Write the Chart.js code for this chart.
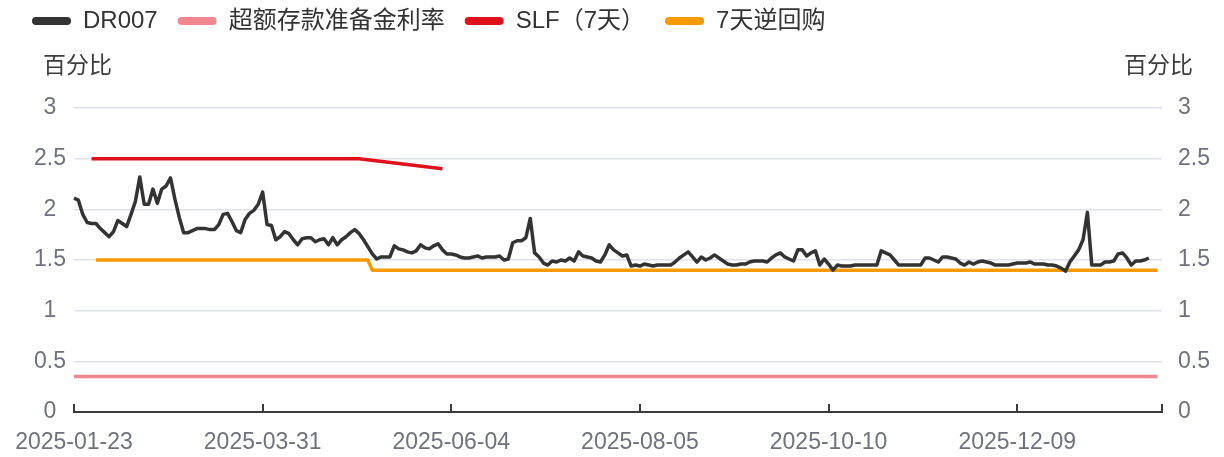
<!DOCTYPE html>
<html lang="zh-CN">
<head>
<meta charset="UTF-8">
<title>DR007 与政策利率</title>
<script src="https://cdn.jsdelivr.net/npm/chart.js"></script>
<style>
  html, body { margin: 0; padding: 0; background: #fff; }
  #chart { display: block; }
</style>
</head>
<body>
<canvas id="chart" width="1224" height="457"></canvas>
<script>
// trading days of the interbank market, 2025-01-23 .. 2026-01-23
const startDate = '2025-01-23';
const endDate = '2026-01-23';
const holidays = ['2025-01-28', '2025-01-29', '2025-01-30', '2025-01-31', '2025-02-03', '2025-02-04',
  '2025-04-04', '2025-05-01', '2025-05-02', '2025-05-05', '2025-06-02',
  '2025-10-01', '2025-10-02', '2025-10-03', '2025-10-06', '2025-10-07', '2025-10-08',
  '2026-01-01', '2026-01-02'];
const workWeekends = ['2025-01-26', '2025-02-08', '2025-04-27', '2025-09-28', '2025-10-11', '2026-01-04'];

// axis labels shown under the chart, one every 43 trading days
const tickLabels = ['2025-01-23', '2025-03-31', '2025-06-04', '2025-08-05', '2025-10-10', '2025-12-09'];
const tickEvery = 43;

// DR007 daily, %
const dr007 = [
  2.11, 2.09, 1.95, 1.87, 1.86, 1.86, 1.81, 1.77, 1.73, 1.78,
  1.89, 1.86, 1.83, 1.95, 2.08, 2.32, 2.05, 2.05, 2.20, 2.06,
  2.20, 2.23, 2.31, 2.10, 1.92, 1.77, 1.77, 1.79, 1.81, 1.81,
  1.81, 1.80, 1.80, 1.85, 1.95, 1.96, 1.88, 1.79, 1.77, 1.90,
  1.96, 1.99, 2.05, 2.17, 1.85, 1.84, 1.70, 1.73, 1.78, 1.76,
  1.70, 1.65, 1.71, 1.72, 1.72, 1.68, 1.70, 1.71, 1.65, 1.72,
  1.65, 1.70, 1.73, 1.77, 1.80, 1.76, 1.70, 1.63, 1.56, 1.51,
  1.53, 1.53, 1.53, 1.64, 1.61, 1.60, 1.58, 1.57, 1.59, 1.65,
  1.62, 1.61, 1.64, 1.66, 1.60, 1.56, 1.56, 1.55, 1.53, 1.52,
  1.52, 1.53, 1.54, 1.52, 1.53, 1.53, 1.53, 1.54, 1.50, 1.51,
  1.67, 1.69, 1.69, 1.72, 1.91, 1.57, 1.53, 1.47, 1.45, 1.49,
  1.48, 1.50, 1.49, 1.52, 1.49, 1.58, 1.54, 1.53, 1.52, 1.49,
  1.48, 1.55, 1.65, 1.60, 1.57, 1.54, 1.55, 1.44, 1.45, 1.44,
  1.46, 1.45, 1.44, 1.45, 1.45, 1.45, 1.45, 1.48, 1.52, 1.55,
  1.58, 1.53, 1.48, 1.53, 1.50, 1.52, 1.55, 1.52, 1.49, 1.46,
  1.45, 1.45, 1.46, 1.46, 1.48, 1.49, 1.49, 1.49, 1.48, 1.52,
  1.55, 1.57, 1.53, 1.51, 1.49, 1.60, 1.60, 1.54, 1.57, 1.59,
  1.45, 1.51, 1.46, 1.40, 1.45, 1.44, 1.44, 1.44, 1.45, 1.45,
  1.45, 1.45, 1.45, 1.45, 1.59, 1.57, 1.55, 1.50, 1.45, 1.45,
  1.45, 1.45, 1.45, 1.45, 1.52, 1.52, 1.50, 1.48, 1.53, 1.53,
  1.52, 1.51, 1.47, 1.45, 1.48, 1.46, 1.48, 1.49, 1.48, 1.47,
  1.45, 1.45, 1.45, 1.45, 1.46, 1.47, 1.47, 1.47, 1.48, 1.46,
  1.46, 1.46, 1.45, 1.45, 1.44, 1.42, 1.39, 1.48, 1.54, 1.60,
  1.70, 1.97, 1.45, 1.45, 1.45, 1.48, 1.48, 1.49, 1.56, 1.57,
  1.52, 1.45, 1.49, 1.49, 1.50, 1.52
];

// policy rates: [date, %] at the points where the line turns
const excessReserve = [['2025-01-23', 0.35], ['2026-01-22', 0.35]];
const slf7d = [['2025-02-05', 2.5], ['2025-04-30', 2.5], ['2025-05-30', 2.4]];
const reverseRepo7d = [['2025-02-06', 1.5], ['2025-05-07', 1.5], ['2025-05-08', 1.4], ['2026-01-22', 1.4]];

const yTicks = [0, 0.5, 1, 1.5, 2, 2.5, 3];

function tradingDays(from, to) {
  const out = [];
  const d = new Date(from + 'T00:00:00Z');
  const end = new Date(to + 'T00:00:00Z');
  while (d <= end) {
    const s = d.toISOString().slice(0, 10);
    const wd = d.getUTCDay();
    const isWork = (wd !== 0 && wd !== 6 && !holidays.includes(s)) || workWeekends.includes(s);
    if (isWork) out.push(s);
    d.setUTCDate(d.getUTCDate() + 1);
  }
  return out;
}

const categories = tradingDays(startDate, endDate);
const toPoints = arr => arr.map(([x, y]) => ({ x, y }));

const FONT = '"Liberation Sans", "Noto Sans CJK SC", Arial, sans-serif';
const TICK_COLOR = '#6f727c';
const GRID_COLOR = '#dfe2ea';
const AXIS_COLOR = '#3b3b3b';

// "百分比" above both value axes
const unitTitles = {
  id: 'unitTitles',
  afterDraw(chart) {
    const { ctx } = chart;
    ctx.save();
    ctx.font = '23px ' + FONT;
    ctx.fillStyle = '#3d3d3d';
    ctx.textBaseline = 'middle';
    ctx.textAlign = 'left';
    ctx.fillText('百分比', 43, 67);
    ctx.textAlign = 'right';
    ctx.fillText('百分比', 1193, 67);
    ctx.restore();
  }
};

// short tick marks pointing up from the date axis
const dateTickMarks = {
  id: 'dateTickMarks',
  afterDraw(chart) {
    const xs = chart.scales.x;
    const { ctx } = chart;
    const bottom = chart.chartArea.bottom;
    const idx = tickLabels.map((_, i) => i * tickEvery).concat([categories.length - 1]);
    ctx.save();
    ctx.strokeStyle = AXIS_COLOR;
    ctx.lineWidth = 2;
    idx.forEach(i => {
      const x = Math.round(xs.getPixelForValue(i));
      ctx.beginPath();
      ctx.moveTo(x, bottom);
      ctx.lineTo(x, bottom - 8);
      ctx.stroke();
    });
    ctx.restore();
  }
};

// extra room between the legend and the plot
const legendSpacer = {
  id: 'legendSpacer',
  beforeInit(chart) {
    const fit = chart.legend.fit;
    chart.legend.fit = function () {
      fit.call(this);
      this.height += 65;
    };
  }
};

const lineStyle = color => ({
  borderColor: color,
  backgroundColor: color,
  borderWidth: 3.5,
  pointRadius: 0,
  pointHoverRadius: 0,
  tension: 0,
  fill: false,
  borderJoinStyle: 'round',
  yAxisID: 'y'
});

new Chart(document.getElementById('chart'), {
  type: 'line',
  data: {
    labels: categories,
    datasets: [
      { label: 'DR007', data: dr007, ...lineStyle('#333333') },
      { label: '超额存款准备金利率', data: toPoints(excessReserve), ...lineStyle('#f2878f') },
      { label: 'SLF（7天）', data: toPoints(slf7d), ...lineStyle('#de111c') },
      { label: '7天逆回购', data: toPoints(reverseRepo7d), ...lineStyle('#f59b00') }
    ]
  },
  options: {
    responsive: false,
    animation: false,
    devicePixelRatio: 1,
    layout: { padding: { top: -11, left: 12, right: 2, bottom: 0 } },
    plugins: {
      legend: {
        position: 'top',
        align: 'start',
        labels: {
          font: { size: 24, family: FONT },
          color: '#333333',
          boxWidth: 39,
          boxHeight: 8,
          padding: 20,
          useBorderRadius: true,
          borderRadius: 4,
          generateLabels: chart => chart.data.datasets.map((ds, i) => ({
            text: ds.label,
            fillStyle: ds.borderColor,
            strokeStyle: ds.borderColor,
            lineWidth: 0,
            borderRadius: 4,
            fontColor: '#333333',
            datasetIndex: i,
            hidden: false
          }))
        }
      },
      tooltip: { enabled: false }
    },
    scales: {
      x: {
        type: 'category',
        offset: false,
        grid: { display: false },
        border: { display: true, color: AXIS_COLOR, width: 2 },
        ticks: {
          autoSkip: false,
          maxRotation: 0,
          minRotation: 0,
          padding: 9,
          color: TICK_COLOR,
          font: { size: 23, family: FONT },
          callback: (value, index) => index % tickEvery === 0 ? tickLabels[index / tickEvery] : null
        },
        afterFit: scale => { scale.height = 45; }
      },
      y: {
        position: 'left',
        min: 0,
        max: 3,
        grid: { color: GRID_COLOR, lineWidth: 1.5, drawTicks: false },
        border: { display: false },
        ticks: {
          stepSize: 0.5,
          padding: 8,
          crossAlign: 'center',
          color: TICK_COLOR,
          font: { size: 23, family: FONT },
          callback: v => yTicks.includes(v) ? String(v) : null
        },
        afterFit: scale => { scale.width = 62; }
      },
      y2: {
        position: 'right',
        min: 0,
        max: 3,
        grid: { display: false, drawTicks: false },
        border: { display: false },
        ticks: {
          stepSize: 0.5,
          padding: 16,
          color: TICK_COLOR,
          font: { size: 23, family: FONT },
          callback: v => yTicks.includes(v) ? String(v) : null
        },
        afterFit: scale => { scale.width = 60; }
      }
    }
  },
  plugins: [legendSpacer, unitTitles, dateTickMarks]
});
</script>
</body>
</html>
